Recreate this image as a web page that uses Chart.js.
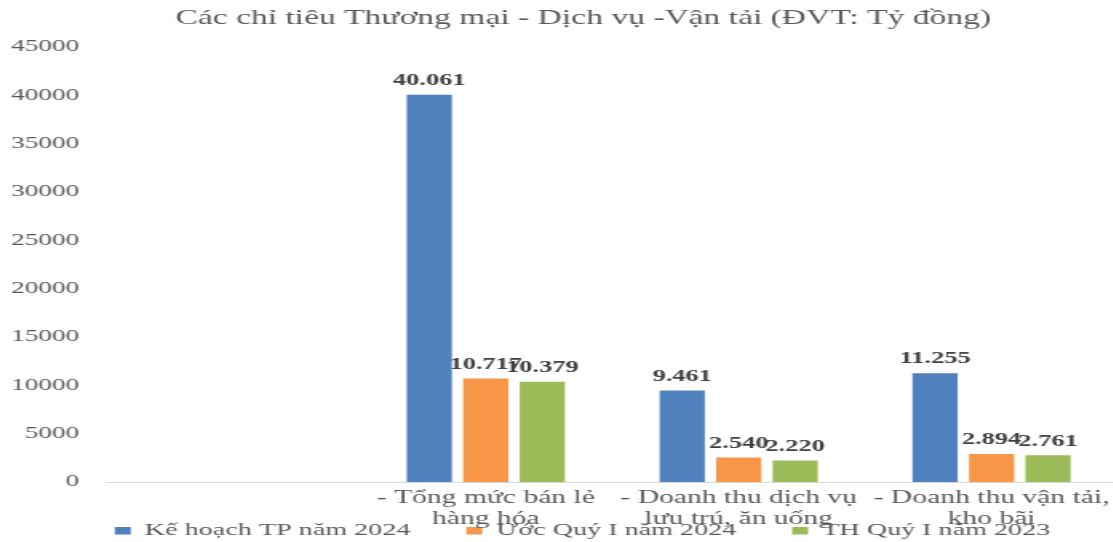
<!DOCTYPE html>
<html>
<head>
<meta charset="utf-8">
<script src="https://cdn.jsdelivr.net/npm/chart.js@4/dist/chart.umd.min.js"></script>
<style>
  body { margin: 0; background: #fff; overflow: hidden; }
</style>
</head>
<body>
<!-- the reference is stretched sideways, so the canvas is drawn narrow and widened by css;
     it runs a few px past the right edge like the original plot area does -->
<canvas id="chart" width="700" height="542" style="width:1119.4px;height:542px;display:block"></canvas>
<script>
var chartTitle = 'Các chỉ tiêu Thương mại - Dịch vụ -Vận tải (ĐVT: Tỷ đồng)';
var categories = [
  '',
  ['- Tổng mức bán lẻ', 'hàng hóa'],
  ['- Doanh thu dịch vụ', 'lưu trú, ăn uống'],
  ['- Doanh thu vận tải,', 'kho bãi']
];
var seriesNames = ['Kế hoạch TP năm 2024', 'Ước Quý I năm 2024', 'TH Quý I năm 2023'];
var keHoach2024 = [null, 40061, 9461, 11255];
var uocQuy1_2024 = [null, 10717, 2540, 2894];
var thQuy1_2023 = [null, 10379, 2220, 2761];
var yMin = 0, yMax = 45000, yStep = 5000;

var serif = "'Liberation Serif', 'Times New Roman', serif";
var textColor = '#595959';

function withDots(v) {
  return String(v).replace(/\B(?=(\d{3})+(?!\d))/g, '.');
}

// value labels above each bar
var barLabels = {
  id: 'barLabels',
  afterDatasetsDraw: function(chart) {
    var ctx = chart.ctx;
    ctx.save();
    ctx.font = 'bold 16.5px ' + serif;
    ctx.fillStyle = '#404040';
    ctx.textAlign = 'center';
    ctx.textBaseline = 'middle';
    chart.data.datasets.forEach(function(ds, i) {
      chart.getDatasetMeta(i).data.forEach(function(bar, j) {
        if (ds.data[j] == null) return;
        ctx.fillText(withDots(ds.data[j]), bar.x, bar.y - 14);
      });
    });
    ctx.restore();
  }
};

// move title / legend a little after layout, like in the reference
var nudge = {
  id: 'nudge',
  afterLayout: function(chart) {
    var t = chart.titleBlock;
    t.left += 14.8; t.right += 14.8;
    var l = chart.legend;
    l.left += 14.4; l.right += 14.4;
    l.top -= 43; l.bottom -= 43;
  }
};

var ctx = document.getElementById('chart').getContext('2d');
var chart = new Chart(ctx, {
  type: 'bar',
  data: {
    labels: categories,
    datasets: [
      { label: seriesNames[0], data: keHoach2024, backgroundColor: '#4F81BD' },
      { label: seriesNames[1], data: uocQuy1_2024, backgroundColor: '#F79646' },
      { label: seriesNames[2], data: thQuy1_2023, backgroundColor: '#9BBB59' }
    ]
  },
  options: {
    responsive: false,
    animation: false,
    devicePixelRatio: 1,
    categoryPercentage: 0.67,
    barPercentage: 0.8,
    layout: { padding: { left: 0, right: 0, top: 0, bottom: -50.6 } },
    plugins: {
      tooltip: { enabled: false },
      title: {
        display: true,
        text: chartTitle,
        color: textColor,
        font: { family: serif, size: 21, weight: 'normal' },
        padding: { top: 5.4, bottom: 16.4 }
      },
      legend: {
        position: 'bottom',
        labels: {
          color: textColor,
          font: { family: serif, size: 17.6 },
          boxWidth: 10,
          boxHeight: 7.5,
          padding: 35
        }
      }
    },
    scales: {
      x: {
        grid: { display: false, drawTicks: false },
        border: { display: true, color: '#d9d9d9', width: 1 },
        ticks: {
          color: textColor,
          font: { family: serif, size: 18.5, lineHeight: 1.12 },
          padding: 6,
          maxRotation: 0,
          autoSkip: false
        },
        afterFit: function(scale) {
          scale.height = 48;
        }
      },
      y: {
        min: yMin,
        max: yMax,
        grid: { display: false, drawTicks: false },
        border: { display: false },
        ticks: {
          stepSize: yStep,
          color: textColor,
          font: { family: serif, size: 17 },
          padding: 17,
          callback: function(v) { return String(v); }
        },
        afterFit: function(scale) {
          scale.width = 66.6;
        }
      }
    }
  },
  plugins: [barLabels, nudge]
});
</script>
</body>
</html>
